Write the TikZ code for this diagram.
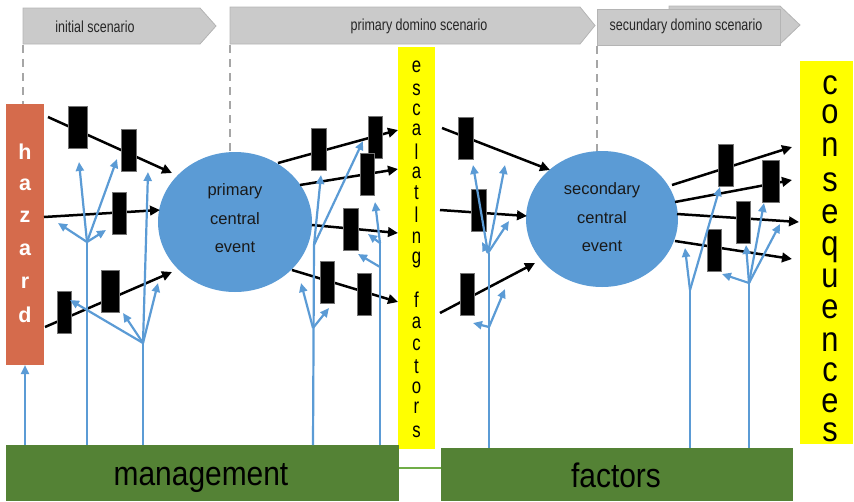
\documentclass[tikz,border=0pt]{standalone}
\usepackage{fontspec}
\setmainfont{Liberation Sans}
\newfontfamily\bannerfont[FakeStretch=0.78]{Liberation Sans}
\newfontfamily\narrowfont[FakeStretch=0.88]{Liberation Sans}
\usetikzlibrary{arrows.meta,shapes.geometric}
\definecolor{hazardred}{HTML}{D56B4C}
\definecolor{escyellow}{HTML}{FFFF00}
\definecolor{mgmtgreen}{HTML}{548235}
\definecolor{linkgreen}{HTML}{70AD47}
\definecolor{evtblue}{HTML}{5B9BD5}
\definecolor{bannergray}{HTML}{CACACA}
\definecolor{bannerline}{HTML}{B4B4B4}
\definecolor{dashgray}{HTML}{A6A6A6}
\begin{document}
\begin{tikzpicture}[x=1pt,y=-1pt,
  plainbox/.style={draw=none, inner sep=0pt, outer sep=0pt},
  barbox/.style={fill=black, draw=black!55, line width=0.6pt, minimum width=15pt, minimum height=42pt, inner sep=0pt, outer sep=0pt},
  blk/.style={draw=black, line width=2.5pt, -{Triangle[length=10pt,width=9.5pt]}},
  blu/.style={draw=evtblue, line width=2.2pt, -{Triangle[length=9pt,width=8pt]}},
  trunk/.style={draw=evtblue, line width=2.2pt},
  banner/.style={fill=bannergray, draw=bannerline, line width=0.8pt},
  gdash/.style={draw=dashgray, line width=2.2pt, dash pattern=on 8pt off 6pt},
  bantext/.style={font=\bannerfont\fontsize{16}{18}\selectfont, text=black!85, inner sep=0pt},
  evt/.style={ellipse, fill=evtblue, inner sep=0pt, outer sep=0pt},
  evttext/.style={align=center, font=\fontsize{16.5}{28.5}\selectfont, text=black!90, inner sep=0pt},
  hzletter/.style={font=\bfseries\fontsize{21.5}{22}\selectfont, text=white, inner sep=0pt},
  escletter/.style={font=\bannerfont\fontsize{21.5}{21.5}\selectfont, text=black, inner sep=0pt},
  conletter/.style={font=\narrowfont\fontsize{35}{35}\selectfont, text=black, inner sep=0pt},
  bottext/.style={font=\narrowfont\fontsize{34}{36}\selectfont, text=black, inner sep=0pt, anchor=base}
]
\useasboundingbox (0,0) rectangle (854,501);

% scenario banners
\path[banner] (23,8) -- (200,8) -- (216,26) -- (200,44) -- (23,44) -- cycle;
\path[banner] (230,7) -- (580,7) -- (595,25.5) -- (580,44) -- (230,44) -- cycle;
\path[banner] (669,6) -- (780,6) -- (800,25) -- (780,44) -- (669,44) -- cycle;
\path[banner] (597,9) rectangle (780,45);
\node[bantext] (ban1) at (95,26.5) {initial scenario};
\node[bantext] (ban2) at (419,26.5) {primary domino scenario};
\node[bantext] (ban3) at (686,26.5) {secundary domino scenario};

% dashed phase markers
\draw[gdash] (23,45) -- (23,104);
\draw[gdash] (230,45) -- (230,152);
\draw[gdash] (597,46) -- (597,152);

% boxes
\node[plainbox, fill=hazardred, minimum width=38pt, minimum height=261pt] (hazard) at (25,234.5) {};
\node[plainbox, fill=escyellow, minimum width=37pt, minimum height=402pt] (escal) at (416.5,248) {};
\node[plainbox, fill=escyellow, minimum width=53pt, minimum height=383pt] (conseq) at (826.5,252.5) {};
\node[plainbox, fill=mgmtgreen, minimum width=393pt, minimum height=56pt] (management) at (202.5,473) {};
\node[plainbox, fill=mgmtgreen, minimum width=352pt, minimum height=53pt] (factors) at (617,474.5) {};
\coordinate (lnk) at (0,468);
\draw[linkgreen, line width=2.5pt] (management.east |- lnk) -- (factors.west |- lnk);

% central events
\node[evt, minimum width=154pt, minimum height=140pt] (pce) at (235,222) {};
\node[evt, minimum width=152pt, minimum height=136pt] (sce) at (602,219) {};
\node[evttext] (pcetext) at (235,218.5) {primary\\central\\event};
\node[evttext] (scetext) at (602,217.5) {secondary\\central\\event};

% black scenario arrows
\draw[blk] (48,117) -- (172,173);
\draw[blk] (44,217) -- (160,210);
\draw[blk] (45,327) -- (172,272);
\draw[blk] (278,163) -- (398,130);
\draw[blk] (300,185) -- (398,169);
\draw[blk] (312,225) -- (398,233);
\draw[blk] (292,270) -- (398,302);
\draw[blk] (442,128) -- (550,170);
\draw[blk] (440,210) -- (527,216);
\draw[blk] (440,313) -- (535,263);
\draw[blk] (672,185) -- (792,147);
\draw[blk] (675,202) -- (792,180);
\draw[blk] (677,214) -- (799,222);
\draw[blk] (675,241) -- (792,259);

% barriers
\node[barbox, minimum width=19pt] (b1) at (77.5,127) {};
\node[barbox] (b2) at (128.5,150) {};
\node[barbox, minimum width=14pt] (b3) at (119,213) {};
\node[barbox, minimum width=18pt] (b4) at (110,291) {};
\node[barbox, minimum width=14pt] (b5) at (64,312) {};
\node[barbox] (m1) at (318.5,149) {};
\node[barbox, minimum width=14pt] (m2) at (375,137.5) {};
\node[barbox, minimum width=14pt] (m3) at (367,174) {};
\node[barbox] (m4) at (350.5,229) {};
\node[barbox, minimum width=14pt] (m5) at (327,282.5) {};
\node[barbox, minimum width=14pt] (m6) at (364,294) {};
\node[barbox] (s1) at (465.5,138) {};
\node[barbox] (s2) at (478.5,210.5) {};
\node[barbox, minimum width=14pt] (s3) at (467,294) {};
\node[barbox] (r1) at (725.5,165) {};
\node[barbox, minimum width=17pt] (r2) at (770.5,181.5) {};
\node[barbox, minimum width=14pt] (r3) at (743,222) {};
\node[barbox, minimum width=14pt] (r4) at (714,250.5) {};

% management influence (blue)
\draw[blu] (25,445) -- (25,365);
% tree 1
\draw[trunk] (87,445) -- (87,242);
\draw[blu] (87,242) -- (79,162);
\draw[blu] (87,242) -- (117,159);
\draw[blu] (87,242) -- (58,223);
\draw[blu] (87,242) -- (106,230);
% tree 2
\draw[trunk] (143,445) -- (143,343);
\draw[blu] (143,343) -- (148,172);
\draw[blu] (143,343) -- (158,283);
\draw[blu] (143,343) -- (123,313);
\draw[blu] (143,343) -- (70,300);
% tree 3
\draw[trunk] (313,445) -- (314,245);
\draw[blu] (313,328) -- (301,283);
\draw[blu] (313,328) -- (329,308);
\draw[blu] (314,245) -- (321,175);
\draw[blu] (314,245) -- (363,141);
% tree 4
\draw[trunk] (380,445) -- (380,243);
\draw[blu] (380,243) -- (375,202);
\draw[blu] (380,267) -- (358,254);
\draw[blu] (380,243) -- (368,234);
% tree 5
\draw[trunk] (489,448) -- (489,253);
\draw[blu] (489,327) -- (505,289);
\draw[blu] (489,327) -- (473,323);
\draw[blu] (488,253) -- (473,165);
\draw[blu] (488,253) -- (505,165);
\draw[blu] (488,253) -- (509,221);
\draw[blu] (488,253) -- (482,242);
% tree 6
\draw[trunk] (690,448) -- (690,290);
\draw[blu] (690,290) -- (685,248);
\draw[blu] (690,290) -- (720,187);
% tree 7
\draw[trunk] (749,448) -- (749,283);
\draw[blu] (749,283) -- (722,274);
\draw[blu] (749,283) -- (746,245);
\draw[blu] (749,283) -- (764,203);
\draw[blu] (749,283) -- (780,224);

% vertical labels
\foreach \l/\y [count=\i] in {h/152,a/185,z/217,a/250,r/283,d/315}
  \node[hzletter] (hz\i) at (25,\y) {\l};
\foreach \l/\y [count=\i] in {e/67,s/90,c/110,a/130,l/152,a/173,t/193,l/215,n/238,g/260,f/300,a/323,c/345,t/367,o/388,r/408,s/432}
  \node[escletter] (es\i) at (416.5,\y) {\l};
\foreach \l/\y [count=\i] in {c/85,o/114,n/147,s/182,e/214,q/250,u/278,e/309,n/342,c/372,e/403,s/432}
  \node[conletter] (co\i) at (830,\y) {\l};

% bottom labels
\node[bottext] (mgtext) at (201,485) {management};
\node[bottext] (fctext) at (616,487) {factors};
\end{tikzpicture}
\end{document}
